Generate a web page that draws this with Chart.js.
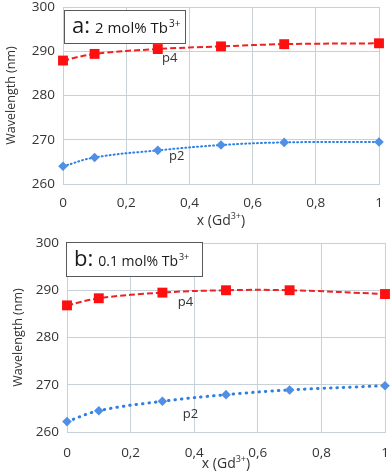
<!DOCTYPE html>
<html>
<head>
<meta charset="utf-8">
<script src="https://cdn.jsdelivr.net/npm/chart.js@4.4.1/dist/chart.umd.min.js"></script>
<style>
  html, body { margin: 0; padding: 0; background: #ffffff; }
  canvas { display: block; }
</style>
</head>
<body>
<canvas id="chartA" width="392" height="236"></canvas>
<canvas id="chartB" width="392" height="236"></canvas>
<script>
// x = Gd3+ fraction
const xValues = [0, 0.1, 0.3, 0.5, 0.7, 1];

// panel a: 2 mol% Tb3+
const p4A = [287.9, 289.4, 290.5, 291.1, 291.6, 291.8];
const p2A = [264.0, 266.0, 267.6, 268.8, 269.4, 269.5];

// panel b: 0.1 mol% Tb3+
const p4B = [286.8, 288.3, 289.5, 290.0, 290.0, 289.2];
const p2B = [262.2, 264.5, 266.5, 267.9, 268.9, 269.8];

const seriesNames = ["p4", "p2"];
const yTicks = [260, 270, 280, 290, 300];

const FONT = "'Open Sans', 'DejaVu Sans', sans-serif";
const TEXT = "#333333";
const GRID = "#c8d0d8";

function toPoints(ys) {
  return xValues.map((x, i) => ({ x: x, y: ys[i] }));
}

// draws text pieces left to right, "sup" pieces raised and smaller
function drawRich(ctx, parts, x, y, size) {
  let tx = x;
  parts.forEach((p) => {
    const s = p.sup ? Math.round(size * 0.65) : (p.size || size);
    ctx.font = s + "px " + FONT;
    ctx.fillText(p.t, tx, p.sup ? y - size * 0.42 : y);
    tx += ctx.measureText(p.t).width + (p.gap || 0);
  });
  return tx - x;
}

function richWidth(ctx, parts, size) {
  let w = 0;
  parts.forEach((p) => {
    const s = p.sup ? Math.round(size * 0.65) : (p.size || size);
    ctx.font = s + "px " + FONT;
    w += ctx.measureText(p.t).width + (p.gap || 0);
  });
  return w;
}

// box with "a: 2 mol% Tb3+", the p4/p2 labels and the x title
const labelsPlugin = {
  id: "panelLabels",
  afterDraw(chart, args, opts) {
    const ctx = chart.ctx;
    const area = chart.chartArea;
    const b = opts.box;
    ctx.save();
    ctx.fillStyle = "#ffffff";
    ctx.fillRect(area.left + b.dx, area.top + b.dy, b.w, b.h);
    ctx.strokeStyle = "#595959";
    ctx.lineWidth = 1;
    ctx.strokeRect(Math.round(area.left + b.dx) + 0.5, Math.round(area.top + b.dy) + 0.5, b.w, b.h);

    ctx.fillStyle = "#1a1a1a";
    ctx.textBaseline = "alphabetic";
    ctx.textAlign = "left";
    drawRich(ctx, [
      { t: opts.letter, size: b.bigSize, gap: 5 },
      { t: opts.text, gap: 1 },
      { t: "3+", sup: true }
    ], area.left + b.dx + b.padX, area.top + b.dy + b.base, b.smallSize);

    // x axis title with superscript
    const xt = [{ t: "x (Gd" }, { t: "3+", sup: true }, { t: ")" }];
    ctx.fillStyle = TEXT;
    const w = richWidth(ctx, xt, 14);
    drawRich(ctx, xt, (area.left + area.right) / 2 - w / 2, area.bottom + opts.xTitleBase, 14);

    // series labels next to the third point
    ctx.font = "13px " + FONT;
    ctx.textAlign = "center";
    ctx.textBaseline = "middle";
    const xs = chart.scales.x, ys = chart.scales.y;
    opts.series.forEach((s) => {
      const d = chart.data.datasets[s.ds].data[2];
      ctx.fillText(s.name, xs.getPixelForValue(d.x) + s.dx, ys.getPixelForValue(d.y) + s.dy);
    });
    ctx.restore();
  }
};

function makeChart(id, p4, p2, cfg) {
  return new Chart(document.getElementById(id), {
    type: "line",
    plugins: [labelsPlugin],
    data: {
      datasets: [
        {
          label: seriesNames[0],
          data: toPoints(p4),
          borderColor: "#ee2222",
          backgroundColor: "#ff1010",
          borderWidth: 2,
          borderDash: [6, 3],
          tension: 0.4,
          pointStyle: "rect",
          pointRadius: 7,
          pointBorderWidth: 0,
          clip: false,
          order: 1
        },
        {
          label: seriesNames[1],
          data: toPoints(p2),
          borderColor: "#2d7fe0",
          backgroundColor: "#4f8fe6",
          borderWidth: cfg.dotWidth,
          borderDash: cfg.dotDash,
          borderCapStyle: "round",
          tension: 0.4,
          pointStyle: "rectRot",
          pointRadius: 4.8,
          pointBorderWidth: 0,
          clip: false,
          order: 2
        }
      ]
    },
    options: {
      responsive: false,
      animation: false,
      layout: { padding: { top: cfg.padTop, right: cfg.padRight, left: 0, bottom: 0 } },
      plugins: {
        legend: { display: false },
        tooltip: { enabled: false },
        panelLabels: {
          letter: cfg.letter,
          text: cfg.text,
          box: cfg.box,
          series: cfg.series,
          xTitleBase: cfg.xTitleBase
        }
      },
      scales: {
        x: {
          type: "linear",
          min: 0,
          max: 1,
          ticks: {
            stepSize: 0.2,
            padding: cfg.xTickPad,
            color: TEXT,
            font: { family: FONT, size: 13.5 },
            callback: (v) => (v === 0 || v === 1 ? String(v) : v.toFixed(1).replace(".", ","))
          },
          grid: { color: GRID, drawTicks: false },
          border: { color: GRID },
          afterFit: (s) => {
            s.height = cfg.xHeight;
            s.paddingLeft = 0;
            s.paddingRight = 0;
          }
        },
        y: {
          min: 260,
          max: 300,
          afterBuildTicks: (s) => { s.ticks = yTicks.map((v) => ({ value: v })); },
          ticks: {
            padding: 8,
            color: TEXT,
            font: { family: FONT, size: 13.5 }
          },
          grid: { color: GRID, drawTicks: false },
          border: { color: GRID },
          title: {
            display: true,
            text: "Wavelength (nm)",
            color: TEXT,
            font: { family: FONT, size: 12.5 },
            padding: { top: cfg.yTitlePad, bottom: 0 }
          },
          afterFit: (s) => {
            s.width = cfg.yWidth;
            s.paddingTop = 0;
            s.paddingBottom = 0;
          }
        }
      }
    }
  });
}

makeChart("chartA", p4A, p2A, {
  letter: "a:",
  text: "2 mol% Tb",
  padTop: 6,
  padRight: 13,
  xHeight: 52,
  xTickPad: 11,
  xTitleBase: 41,
  yWidth: 63,
  yTitlePad: 3.5,
  dotWidth: 2,
  dotDash: [1, 3],
  box: { dx: 1, dy: 3, w: 121, h: 33, padX: 8, base: 23, bigSize: 22, smallSize: 15 },
  series: [
    { ds: 0, name: "p4", dx: 12, dy: 9 },
    { ds: 1, name: "p2", dx: 19, dy: 6 }
  ]
});

makeChart("chartB", p4B, p2B, {
  letter: "b:",
  text: "0.1 mol% Tb",
  padTop: 7,
  padRight: 7,
  xHeight: 40,
  xTickPad: 13,
  xTitleBase: 36,
  yWidth: 67,
  yTitlePad: 10.5,
  dotWidth: 3,
  dotDash: [0.5, 6],
  box: { dx: -1, dy: -1, w: 136, h: 34, padX: 8, base: 24, bigSize: 22, smallSize: 14 },
  series: [
    { ds: 0, name: "p4", dx: 23, dy: 10 },
    { ds: 1, name: "p2", dx: 28, dy: 13 }
  ]
});
</script>
</body>
</html>
